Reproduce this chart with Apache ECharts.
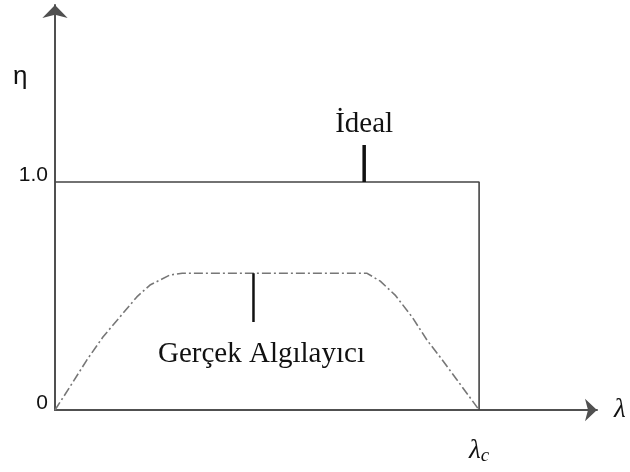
<!DOCTYPE html>
<html>
<head>
<meta charset="utf-8">
<script src="https://cdn.jsdelivr.net/npm/echarts@6/dist/echarts.min.js"></script>
<style>
  html, body { margin: 0; padding: 0; background: #fff; }
  #chart { width: 630px; height: 472px; }
</style>
</head>
<body>
<div id="chart"></div>
<script>
// Wavelength axis runs past the cut-off wavelength λc (normalised to 1)
const lambdaMax = 1.278;
const etaMax = 1.776;

// Ideal detector: efficiency 1.0 up to λc, then drops to zero
const idealX = [0, 1, 1];
const idealY = [1, 1, 0];

// Real detector: rises, flattens near 0.6, falls back to zero at λc
const realX = [0, 0.035, 0.075, 0.113, 0.153, 0.193, 0.224, 0.271, 0.3, 0.735, 0.767, 0.802, 0.842, 0.877, 0.908, 0.948, 1];
const realY = [0, 0.101, 0.219, 0.32, 0.408, 0.496, 0.548, 0.592, 0.6, 0.6, 0.565, 0.504, 0.408, 0.307, 0.232, 0.132, 0];

// Leader lines for the two curve labels
const idealPointerX = [0.729, 0.729];
const idealPointerY = [1, 1.162];
const realPointerX = [0.468, 0.468];
const realPointerY = [0.6, 0.386];

const idealLabel = 'İdeal';
const realLabel = 'Gerçek Algılayıcı';

const pairs = (xs, ys) => xs.map((x, i) => [x, ys[i]]);

const serif = '"Liberation Serif", "Times New Roman", serif';
const sans = '"Liberation Sans", Arial, sans-serif';

const chart = echarts.init(document.getElementById('chart'), null, { renderer: 'canvas' });

chart.setOption({
  animation: false,
  backgroundColor: '#fff',
  grid: { left: 55, right: 33, top: 5, bottom: 62, containLabel: false },
  xAxis: {
    type: 'value',
    min: 0,
    max: lambdaMax,
    interval: 1,
    name: 'λ',
    nameLocation: 'end',
    nameGap: 17,
    nameTextStyle: { fontFamily: serif, fontStyle: 'italic', fontSize: 27, color: '#111', verticalAlign: 'middle' },
    axisLine: {
      show: true,
      onZero: false,
      symbol: ['none', 'arrow'],
      symbolSize: [17, 12],
      lineStyle: { color: '#505050', width: 2 }
    },
    axisTick: { show: false },
    splitLine: { show: false },
    axisLabel: {
      margin: 26,
      formatter: v => (v === 1 ? '{l|λ}{s|c}' : ''),
      rich: {
        l: { fontFamily: serif, fontStyle: 'italic', fontSize: 27, color: '#111' },
        s: { fontFamily: serif, fontStyle: 'italic', fontSize: 19, color: '#111', padding: [10, 0, 0, 0] }
      }
    }
  },
  yAxis: {
    type: 'value',
    min: 0,
    max: etaMax,
    interval: 1,
    axisLine: {
      show: true,
      onZero: false,
      symbol: ['none', 'arrow'],
      symbolSize: [19, 13],
      lineStyle: { color: '#505050', width: 2 }
    },
    axisTick: { show: false },
    splitLine: { show: false },
    axisLabel: {
      margin: 7,
      fontFamily: sans,
      fontSize: 21,
      lineHeight: 14,
      color: '#111',
      verticalAlign: 'bottom',
      formatter: v => (v === 0 ? '0' : v === 1 ? '1.0' : '')
    }
  },
  graphic: [
    {
      type: 'text',
      left: 13,
      top: 64,
      style: { text: 'η', font: '26px ' + sans, fill: '#111' }
    }
  ],
  series: [
    {
      name: 'ideal',
      type: 'line',
      data: pairs(idealX, idealY),
      symbol: 'none',
      lineStyle: { color: '#444', width: 1.6 },
      z: 3
    },
    {
      name: 'real',
      type: 'line',
      data: pairs(realX, realY),
      symbol: 'none',
      lineStyle: { color: '#777', width: 1.6, type: [9, 3, 2, 3] },
      z: 3
    },
    {
      name: 'idealPointer',
      type: 'line',
      symbol: 'circle',
      symbolSize: 0.1,
      showSymbol: true,
      lineStyle: { color: '#111', width: 3.5 },
      itemStyle: { color: 'rgba(0,0,0,0)' },
      data: [
        { value: [idealPointerX[0], idealPointerY[0]] },
        {
          value: [idealPointerX[1], idealPointerY[1]],
          label: {
            show: true,
            position: 'top',
            distance: 6,
            formatter: idealLabel,
            fontFamily: serif,
            fontSize: 29,
            color: '#111'
          }
        }
      ],
      z: 4
    },
    {
      name: 'realPointer',
      type: 'line',
      symbol: 'circle',
      symbolSize: 0.1,
      showSymbol: true,
      lineStyle: { color: '#111', width: 2.5 },
      itemStyle: { color: 'rgba(0,0,0,0)' },
      data: [
        { value: [realPointerX[0], realPointerY[0]] },
        {
          value: [realPointerX[1], realPointerY[1]],
          label: {
            show: true,
            position: 'bottom',
            distance: 18,
            offset: [8, 0],
            formatter: realLabel,
            fontFamily: serif,
            fontSize: 29,
            color: '#111'
          }
        }
      ],
      z: 4
    }
  ]
});
</script>
</body>
</html>
